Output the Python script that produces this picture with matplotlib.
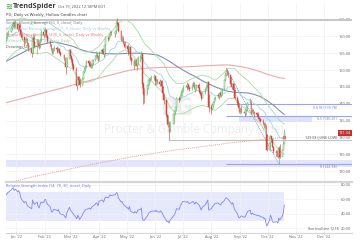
import pandas as pd
import matplotlib
matplotlib.use('Agg')
import matplotlib.pyplot as plt
import matplotlib.dates as mdates
from matplotlib.lines import Line2D
from matplotlib.transforms import blended_transform_factory

plt.rcParams['font.family'] = ['Open Sans', 'DejaVu Sans']

HOLIDAYS = ['2021-12-24', '2022-01-17', '2022-02-21', '2022-04-15', '2022-05-30',
            '2022-06-20', '2022-07-04', '2022-09-05']
days = pd.bdate_range('2021-12-21', '2022-10-19', freq='C', holidays=HOLIDAYS)

first_open = 158.6
closes = [
    159.5, 160.8, 161.4, 162.6, 163.1, 163.9, 162.9, 163.6,
    162.1, 163.5, 162.0, 160.3, 159.8, 158.2, 158.9, 159.3, 157.9, 156.2,
    155.0, 159.6, 158.4, 157.1, 158.6, 157.4, 156.9, 158.0, 161.3, 160.4,
    161.5, 162.0, 160.0, 158.5, 157.6, 156.4, 155.2, 155.8, 156.5, 156.1,
    155.7, 156.3, 155.2, 154.5, 153.4, 152.2, 151.0, 153.6, 155.8,
    154.2, 153.1, 151.6, 150.4, 146.6, 145.4, 147.8, 147.0, 145.6, 147.3,
    149.4, 150.2, 151.0, 152.6, 152.2, 151.5, 151.1, 151.6, 153.0, 154.1,
    154.6, 154.2, 152.8,
    155.1, 155.9, 155.4, 154.9, 157.5, 159.6, 159.1, 160.0, 161.4, 160.9,
    160.8, 161.7, 164.1, 163.8, 161.5, 159.0, 159.6, 158.1, 157.3, 157.0,
    156.1, 155.3, 156.8, 153.5, 152.6, 151.3, 152.6, 151.9, 151.4, 153.6,
    153.9, 154.9, 145.9, 142.8, 142.4, 144.5, 145.6, 146.9, 147.3, 147.7, 148.1,
    146.6, 147.2, 146.4, 145.9, 146.6, 145.2, 143.1, 141.2, 136.6, 134.1,
    134.8, 131.6, 134.1, 136.9, 137.9, 139.1, 141.7, 141.1, 142.3, 143.5, 143.8,
    145.1, 145.0, 145.6, 144.7, 144.3, 145.4, 146.1, 145.0, 144.2, 145.6,
    144.6, 143.6, 142.9, 141.8, 143.2, 144.3, 145.0, 145.6, 146.3, 138.9,
    138.4, 139.6, 140.4, 141.4, 141.9, 142.6, 142.2, 143.1, 142.6, 144.3,
    146.9, 148.6, 149.6, 149.3, 148.4, 145.9, 145.0, 145.8, 144.1, 141.6,
    140.3, 138.9, 137.6,
    138.3, 137.6, 137.1, 138.2, 139.0, 140.1, 141.0, 137.3, 138.0, 137.6,
    137.2, 137.0, 136.4, 135.9, 135.5, 135.0, 134.4, 133.4, 133.9, 130.7, 126.3,
    128.2, 130.4, 129.6, 127.2, 125.9, 125.5, 125.4, 124.6, 126.9, 124.2,
    126.3, 127.9, 131.34,
]
highs = [
    160.0, 161.2, 161.9, 163.0, 163.8, 164.5, 164.3, 164.9,
    163.9, 164.4, 163.9, 162.2, 160.9, 159.5, 159.6, 160.2, 159.6, 158.3,
    156.8, 160.9, 160.4, 158.9, 159.2, 159.3, 158.5, 159.4, 161.8, 162.2,
    162.3, 162.9, 162.1, 160.4, 158.9, 157.8, 156.6, 156.5, 157.3, 157.0,
    156.6, 156.9, 156.6, 155.6, 154.9, 153.9, 152.4, 153.9, 156.3,
    156.1, 154.6, 153.5, 152.2, 150.8, 147.9, 148.3, 148.3, 147.6, 147.8,
    149.8, 150.9, 151.4, 153.0, 153.1, 152.6, 152.2, 152.0, 153.4, 154.4,
    155.5, 155.0, 154.6,
    155.6, 156.4, 156.6, 156.0, 157.9, 160.1, 160.1, 160.6, 161.8, 161.6,
    161.4, 162.2, 164.8, 165.3, 164.2, 161.8, 160.4, 160.0, 158.6, 158.6,
    157.6, 156.6, 157.2, 156.6, 153.8, 153.2, 153.3, 153.2, 152.4, 154.2,
    154.4, 155.6, 153.0, 146.4, 144.6, 145.4, 146.2, 147.6, 148.0, 148.6, 148.7,
    148.2, 147.6, 147.4, 147.2, 147.0, 146.9, 145.4, 142.8, 139.5, 137.0,
    136.6, 134.7, 134.8, 137.6, 138.6, 139.8, 141.9, 141.9, 142.8, 144.1, 144.6,
    145.6, 146.1, 146.3, 146.1, 145.4, 145.8, 146.6, 146.4, 145.2, 145.9,
    146.1, 145.1, 144.2, 143.4, 143.6, 144.7, 145.5, 145.9, 146.8, 142.8,
    139.8, 140.1, 140.9, 141.8, 142.4, 143.2, 143.1, 143.7, 143.8, 144.6,
    147.3, 149.3, 150.64, 150.2, 149.6, 147.9, 146.2, 146.4, 146.0, 144.3,
    142.3, 141.0, 139.8,
    138.9, 139.4, 138.3, 138.6, 139.5, 140.5, 141.6, 140.6, 138.6, 138.4,
    137.8, 137.5, 137.4, 136.9, 136.1, 135.7, 135.6, 134.6, 134.6, 133.8, 130.9,
    128.6, 130.8, 130.3, 129.3, 127.3, 126.4, 126.3, 125.7, 127.3, 127.9,
    126.6, 128.8, 132.6,
]
lows = [
    158.1, 159.2, 160.2, 161.2, 162.0, 162.7, 162.4, 162.6,
    161.5, 161.8, 161.6, 159.6, 158.9, 156.7, 157.6, 158.2, 157.5, 155.7,
    153.9, 154.8, 157.8, 156.5, 154.9, 156.8, 156.1, 156.6, 158.5, 159.8,
    160.1, 161.2, 159.8, 158.1, 157.2, 155.9, 154.8, 154.7, 155.5, 155.4,
    155.0, 155.3, 155.0, 154.1, 153.0, 151.9, 148.9, 150.8, 153.4,
    153.6, 152.3, 150.6, 149.9, 146.1, 144.1, 145.7, 146.4, 145.1, 145.4,
    147.4, 149.1, 149.8, 150.5, 151.2, 150.9, 150.6, 150.5, 151.4, 152.6,
    153.5, 153.6, 152.6,
    152.9, 154.9, 154.8, 153.9, 154.6, 157.4, 158.5, 158.8, 159.7, 160.5,
    159.9, 160.6, 161.8, 163.2, 161.2, 158.6, 158.6, 157.7, 156.7, 156.6,
    155.2, 154.6, 154.8, 152.9, 151.4, 150.4, 151.1, 151.2, 149.9, 151.5,
    152.3, 153.3, 144.6, 139.8, 140.1, 142.8, 144.3, 145.7, 146.4, 146.9, 146.9,
    145.7, 145.6, 145.9, 145.4, 145.4, 144.9, 142.9, 139.9, 136.1, 133.6,
    133.1, 129.1, 131.5, 134.0, 136.5, 137.8, 139.2, 140.4, 141.0, 142.0, 142.4,
    143.5, 144.2, 144.7, 144.3, 143.7, 144.1, 145.0, 144.6, 143.4, 144.0,
    144.3, 143.2, 142.5, 141.2, 141.6, 142.9, 144.1, 144.8, 145.3, 137.4,
    136.9, 138.2, 139.1, 140.2, 141.0, 141.7, 141.5, 142.1, 142.0, 142.5,
    144.1, 146.6, 148.3, 148.6, 147.8, 145.6, 144.4, 144.7, 143.8, 141.3,
    139.6, 138.6, 137.2,
    136.9, 137.1, 136.3, 136.7, 137.8, 139.0, 140.2, 137.0, 137.0, 136.9,
    136.1, 136.2, 136.0, 135.4, 134.9, 134.5, 133.9, 132.9, 132.4, 130.3, 126.0,
    126.0, 128.5, 128.6, 127.0, 125.4, 124.4, 124.2, 124.0, 122.18, 124.0,
    124.6, 126.3, 128.3,
]
rsi = [
    66, 67, 69, 73, 75, 76, 72, 74,
    70, 72, 69, 63, 60, 55, 57, 56, 52, 50, 47, 59, 55, 53, 56, 50, 48, 52, 56, 55,
    59, 60, 56, 53, 50, 45, 42, 44, 46, 45, 44, 46, 42, 40, 38, 36, 34, 41, 49,
    45, 43, 42, 40, 35, 33, 38, 36, 32, 38, 41, 43, 45, 46, 47, 48, 46, 49, 50, 53,
    55, 54, 51,
    57, 59, 58, 56, 60, 63, 62, 64, 66, 65, 66, 67, 69, 68, 62, 56, 57, 54, 52, 51,
    48, 46, 50, 44, 43, 41, 43, 42, 41, 45, 46, 48, 34, 31, 31, 36, 38, 41, 42, 43, 44,
    43, 45, 43, 42, 44, 42, 40, 37, 31, 29, 30, 27, 31, 37, 39, 42, 47, 46, 50, 53, 55,
    57, 56, 57, 55, 54, 56, 57, 55, 53, 56, 53, 51, 48, 45, 49, 52, 54, 56, 59, 45,
    47, 50, 51, 53, 54, 55, 54, 53, 52, 55, 58, 61, 62, 61, 60, 55, 53, 55, 51, 46,
    40, 37, 34,
    35, 37, 35, 37, 40, 43, 45, 39, 41, 40, 39, 38, 37, 38, 37, 36, 35, 33, 34, 28, 23,
    31, 38, 35, 30, 28, 29, 29, 27, 34, 31, 37, 42, 52,
]

# moving averages
ma_dates = ([pd.Timestamp('2021-12-20')]
            + list(pd.date_range('2021-12-24', '2022-10-14', freq='W-FRI'))
            + [pd.Timestamp('2022-10-19')])
sma50 = [152.4, 153.0, 154.0, 155.0, 156.0, 156.8, 157.5, 158.0, 158.3, 158.0, 157.5,
         157.0, 156.2, 155.6, 155.2, 155.0, 154.9, 154.8, 154.8, 154.9, 155.0, 155.0,
         154.9, 154.7, 154.5, 153.6, 152.5, 151.2, 150.0, 148.9, 148.0, 146.8, 145.9,
         145.0, 144.3, 143.7, 143.4, 143.3, 143.2, 142.8, 142.1, 141.0, 139.6, 137.9, 136.8]
sma200 = [140.2, 140.5, 141.0, 141.5, 142.0, 142.5, 143.0, 143.5, 144.0, 144.5, 145.0,
          145.6, 146.1, 146.6, 147.1, 147.6, 148.1, 148.6, 149.1, 149.6, 150.0, 150.3,
          150.5, 150.6, 150.7, 150.8, 150.8, 150.8, 150.9, 151.0, 151.1, 151.2, 151.3,
          151.4, 151.5, 151.5, 151.3, 151.0, 150.6, 150.1, 149.5, 148.8, 148.2, 147.7, 147.5]
sma200_weekly = [116.2, 116.5, 117.0, 117.5, 117.9, 118.4, 118.8, 119.2, 119.6, 120.0,
                 120.4, 120.8, 121.2, 121.6, 122.0, 122.4, 122.8, 123.1, 123.5, 123.8,
                 124.2, 124.5, 124.8, 125.1, 125.4, 125.7, 126.0, 126.3, 126.5, 126.8,
                 127.0, 127.3, 127.5, 127.8, 128.0, 128.3, 128.5, 128.7, 128.9, 129.1,
                 129.3, 129.5, 129.7, 129.9, 130.0]
band_upper = [161.5, 162.5, 164.5, 165.5, 165.0, 164.0, 164.0, 164.3, 163.0, 161.7, 160.3,
              159.0, 156.0, 155.3, 155.7, 157.0, 159.5, 161.5, 164.0, 165.0, 164.0, 161.5,
              158.0, 156.0, 154.0, 152.0, 148.0, 146.0, 146.0, 147.0, 148.0, 148.5, 148.0,
              147.0, 148.5, 150.5, 150.5, 148.5, 147.0, 145.0, 143.0, 140.0, 137.5, 135.0, 134.0]
band_lower = [152.5, 153.5, 155.5, 156.5, 156.0, 155.0, 155.0, 155.3, 154.0, 152.7, 151.3,
              150.0, 147.0, 146.3, 146.7, 148.0, 150.5, 152.5, 155.0, 156.0, 155.0, 152.5,
              149.0, 147.0, 145.0, 143.0, 139.0, 137.0, 137.0, 138.0, 139.0, 139.5, 139.0,
              138.0, 139.5, 141.5, 141.5, 139.5, 138.0, 136.0, 134.0, 131.0, 128.5, 126.0, 125.0]

# drawings
fib_start, fib_end = '2022-08-17', '2022-10-13'
fib_high, fib_low = 150.64, 122.18
fib_ratios = ['0.618', '0.5', '0']
fib_prices = [139.78, 136.41, 122.18]
zone_dates = ['2022-08-31', '2022-11-18']
zone_prices = (134.6, 136.4)
support_zone = (121.2, 123.3)
june_low_date, june_low = '2022-06-16', 129.08
top_line = 165.0
last_price = 131.34

price_ticks = [120, 125, 130, 135, 140, 145, 150, 155, 160, 165]
rsi_ticks = [20, 40, 60, 80]

UP, DOWN = '#5cb860', '#d6453d'
W, H = 360, 240

fig = plt.figure(figsize=(3.6, 2.4), dpi=100)
ax = fig.add_axes([6 / W, 1 - 181.5 / H, 346 / W, 178.5 / H])
ax_rsi = fig.add_axes([6 / W, 8 / H, 346 / W, 49 / H], sharex=ax)

x0 = mdates.date2num(pd.Timestamp('2021-12-21 04:00'))
x1 = mdates.date2num(pd.Timestamp('2022-12-31 10:00'))
ax.set_xlim(x0, x1)
ax.set_ylim(116.9, 169.9)
ax_rsi.set_ylim(14.8, 82.4)

for a in (ax, ax_rsi):
    for s in a.spines.values():
        s.set_visible(False)
    a.grid(True, color='#f1f1f1', lw=0.5)
    a.set_axisbelow(True)
    a.yaxis.tick_right()
    a.tick_params(axis='y', length=0, pad=-1, labelsize=2.8, labelcolor='#666666')

ax.set_yticks(price_ticks)
ax.set_yticklabels(['%.2f' % v for v in price_ticks])
ax_rsi.set_yticks(rsi_ticks)
ax_rsi.set_yticklabels(['%.2f' % v for v in rsi_ticks])
for a in (ax, ax_rsi):
    for lab in a.get_yticklabels():
        lab.set_horizontalalignment('right')

ax.tick_params(axis='x', length=0, labelbottom=False)
ax_rsi.xaxis.set_major_locator(mdates.MonthLocator())
ax_rsi.xaxis.set_major_formatter(mdates.DateFormatter("%b '%y"))
ax_rsi.tick_params(axis='x', length=1.5, width=0.4, color='#999999', pad=0.5,
                   labelsize=2.8, labelcolor='#666666')

# watermark
ax.text(0.497, 0.41, 'PG', transform=ax.transAxes, ha='center', va='center',
        fontsize=18, fontweight='bold', color='#ededed', zorder=0)
ax.text(0.543, 0.29, 'Procter & Gamble Company (The)', transform=ax.transAxes,
        ha='center', va='center', fontsize=8.3, color='#ededed', zorder=0)

# zones and levels
ax.axhspan(*support_zone, color='#e2e5fb', lw=0, zorder=0.5)
ax.axhline(top_line, color='#c6c6c6', lw=1.4, zorder=1)
ax.hlines(june_low, mdates.datestr2num(june_low_date), x1, color='#c2c2c2', lw=0.8, zorder=1)
ax.fill_between(pd.to_datetime(zone_dates), *zone_prices, color='#dfe2fb', lw=0, zorder=0.6)
fs = mdates.datestr2num(fib_start)
for r, p in zip(fib_ratios, fib_prices):
    ax.hlines(p, fs, x1, color='#9aa4ea', lw=0.8, zorder=1.2)
ax.plot(pd.to_datetime([fib_start, fib_end]), [fib_high, fib_low],
        color='#8d97e2', lw=0.5, ls=(0, (2, 1)), zorder=1.2)

trans = blended_transform_factory(ax.transAxes, ax.transData)
lab_x = (337 - 6) / 346
for r, p in zip(fib_ratios, fib_prices):
    ax.text(lab_x, p - 0.5, '%s (%.2f)' % (r, p), transform=trans, ha='right', va='top',
            fontsize=2.6, color='#6d78cf')
ax.text(lab_x, june_low + 0.4, '%.2f (JUNE LOW)' % june_low, transform=trans, ha='right',
        va='bottom', fontsize=2.6, color='#555555')

# moving averages
ax.plot(ma_dates, sma200, color='#f0a8a8', lw=0.8, zorder=2)
ax.plot(ma_dates, sma200_weekly, color='#ef9a9a', lw=0.7, ls=(0, (1, 1)), zorder=2)
ax.plot(ma_dates[-1:], sma200_weekly[-1:], 's', color='#e57373', ms=1.5, zorder=4)
ax.plot(ma_dates, sma50, color='#8391aa', lw=0.8, zorder=2)
ax.plot(ma_dates, band_upper, color='#a9dba8', lw=0.6, zorder=2)
ax.plot(ma_dates, band_lower, color='#a9dba8', lw=0.6, zorder=2)
ema21 = pd.Series(closes).ewm(span=21, adjust=False).mean()
ax.plot(days, ema21, color='#9fd3ee', lw=0.6, zorder=2)

# hollow candles
opens = [first_open] + closes[:-1]
xd = mdates.date2num(days)
up = [c >= o for o, c in zip(opens, closes)]
cols = [UP if u else DOWN for u in up]
ax.vlines(xd, lows, highs, colors=cols, lw=0.45, zorder=3)
for xi, o, c, u, col in zip(xd, opens, closes, up, cols):
    ax.bar(xi, c - o if abs(c - o) > 0.15 else 0.15, bottom=min(o, c) if u else o,
           width=0.75, color='white' if u else col, edgecolor=col, lw=0.35, zorder=3.5)

ax.text(0.998, last_price, '%.2f' % last_price, transform=trans, ha='right', va='center',
        fontsize=2.8, color='white', zorder=6,
        bbox=dict(boxstyle='square,pad=0.25', fc='#c9302c', ec='none'))

# RSI panel
ax_rsi.fill_between([days[0], days[-1]], 30, 70, color='#e6e8fc', lw=0, zorder=0.5)
ax_rsi.plot(days, rsi, color='#8585f2', lw=0.6, zorder=2)

# separators
for yy, lw in ((182.3, 1.6), (232.5, 0.8)):
    fig.add_artist(Line2D([6 / W, 352 / W], [1 - yy / H] * 2, color='#d6d6d6', lw=lw))

# header texts
def ftext(x, y, s, **kw):
    fig.text(x / W, 1 - y / H, s, va='center', **kw)

ftext(5, 6, '\u224b', fontsize=6, color='#4caf50', fontweight='bold')
ftext(13, 6, 'TrendSpider', fontsize=5.2, color='#3b3b3b', fontweight='bold')
ftext(58, 6, 'Oct 19, 2022 12:18PM EDT', fontsize=2.8, color='#555555')
ftext(6, 15, 'PG, Daily vs Weekly, Hollow Candles chart', fontsize=3, color='#333333')
legend_lines = [
    ('Simple Moving Average (50, 0, close), Daily', '#6d7a90'),
    ('Exponential Moving Average (21, 0, close), Daily vs Weekly', '#8cc8ea'),
    ('Simple Moving Average (200, 0, close), Daily vs Weekly', '#e57373'),
    ('Keltner Channel (20, 2, close), Daily', '#8fcf8d'),
    ('Drawings, 20', '#555555'),
]
for i, (s, c) in enumerate(legend_lines):
    ftext(6, 23 + 6 * i, s, fontsize=2.8, color=c)
ftext(6, 186.5, 'Relative Strength Index (14, 70, 30, close), Daily', fontsize=2.8,
      color='#6b6bf0')
ftext(339, 229, 'Your local time 12:18', fontsize=2.3, color='#555555', ha='right')

fig.savefig('out.png', dpi=100, facecolor='white')
